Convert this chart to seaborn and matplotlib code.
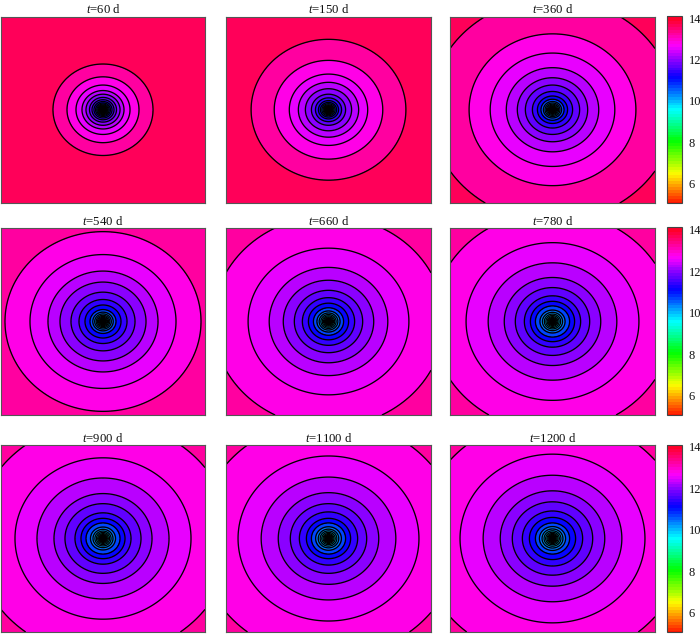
import numpy as np
import matplotlib
matplotlib.use("Agg")
import matplotlib.pyplot as plt
from matplotlib.colors import ListedColormap, Normalize
from matplotlib.cm import ScalarMappable
import seaborn as sns

sns.set_theme(style="ticks")
plt.rcParams["font.family"] = ["Liberation Serif", "DejaVu Serif"]
plt.rcParams["mathtext.fontset"] = "custom"
plt.rcParams["mathtext.rm"] = "Liberation Serif"
plt.rcParams["mathtext.it"] = "Liberation Serif:italic"

# Times (days) of each panel
times = [60, 150, 360, 540, 660, 780, 900, 1100, 1200]
# Contour levels, outermost first
levels_read = [13.45, 13.1, 12.8, 12.5, 12.2, 11.9, 11.6, 11.3, 11.0, 10.7,
               10.4, 10.1, 9.8, 9.5, 9.2, 8.9, 8.6, 8.3, 8.0, 7.7, 7.4, 7.1, 6.8]
# Radius of each contour along the horizontal axis (half-width of a panel = 102)
r_60 = [50, 36, 27, 21, 17, 13.5, 11, 9, 7.4, 6.2, 5.2, 4.4, 3.7, 3.1, 2.6, 2.2, 1.8, 1.5, 1.2, 1.0, 0.8, 0.6, 0.45]
r_150 = [77, 54, 39, 30, 23, 17, 13, 10, 8, 6.6, 5.4, 4.5, 3.8, 3.2, 2.7, 2.2, 1.8, 1.5, 1.2, 1.0, 0.8, 0.6, 0.45]
r_360 = [122, 83, 62, 46, 35, 27, 20, 15, 11.5, 9, 7.4, 6.1, 5.0, 4.1, 3.4, 2.8, 2.3, 1.9, 1.5, 1.2, 0.95, 0.7, 0.5]
r_540 = [165, 98, 73, 55, 43, 32, 24, 18, 13, 10.2, 8.3, 6.8, 5.6, 4.6, 3.8, 3.1, 2.5, 2.0, 1.6, 1.3, 1.0, 0.75, 0.5]
r_660 = [190, 115, 80, 59, 45, 34, 26, 20, 15, 11.5, 9.3, 7.6, 6.2, 5.0, 4.1, 3.3, 2.7, 2.2, 1.8, 1.4, 1.1, 0.8, 0.5]
r_780 = [200, 120, 86, 64, 48, 37, 28, 22, 17, 12.5, 10, 8.1, 6.6, 5.3, 4.3, 3.5, 2.8, 2.3, 1.8, 1.4, 1.1, 0.8, 0.5]
r_900 = [205, 128, 88, 66, 49, 38, 28, 22, 17, 12.5, 10, 8.1, 6.6, 5.3, 4.3, 3.5, 2.8, 2.3, 1.8, 1.4, 1.1, 0.8, 0.5]
r_1100 = [210, 130, 90, 67, 50, 38, 29, 22, 17, 12.8, 10.2, 8.3, 6.7, 5.4, 4.4, 3.6, 2.9, 2.3, 1.8, 1.4, 1.1, 0.8, 0.5]
r_1200 = [215, 133, 92, 69, 52, 40, 30, 23, 17, 13, 10.4, 8.4, 6.8, 5.5, 4.5, 3.6, 2.9, 2.3, 1.8, 1.4, 1.1, 0.8, 0.5]
radii = [r_60, r_150, r_360, r_540, r_660, r_780, r_900, r_1100, r_1200]
cbar_ticks = [6, 8, 10, 12, 14]
vmin, vmax = 5.1, 14.1

W, H = 700, 634
col_x = [(1, 205), (226, 431), (450, 655)]
row_y = [(16.5, 203), (228, 415), (445, 632)]
cbar_x = (666.5, 681.5)

cmap = ListedColormap(sns.color_palette("hsv", 64))
norm = Normalize(vmin, vmax)
draw_levels = np.r_[5.0, levels_read[::-1], 14.0]

g = np.linspace(-1, 1, 1400)
X, Y = np.meshgrid(g, g)
R = np.hypot(X, Y) * 102

fig = plt.figure(figsize=(7.0, 6.34), dpi=100, facecolor="white")


def place(x0, x1, y0, y1):
    return fig.add_axes([x0 / W, 1 - y1 / H, (x1 - x0) / W, (y1 - y0) / H])


def style(ax):
    for s in ax.spines.values():
        s.set_color("#555555")
        s.set_linewidth(0.8)


for i, (t, rad) in enumerate(zip(times, radii)):
    r_row, c_col = divmod(i, 3)
    ax = place(*col_x[c_col], *row_y[r_row])
    rr = np.array(rad, float)[::-1]
    lv = np.array(levels_read, float)[::-1]
    # Field that passes through the contours
    Z = np.interp(np.log(np.maximum(R, 0.02)),
                  np.log(np.r_[0.1, rr, rr[-1] * 2.5]),
                  np.r_[5.1, lv, 13.9])
    ax.contourf(X, Y, Z, levels=draw_levels, cmap=cmap, norm=norm)
    ax.contour(X, Y, Z, levels=levels_read[::-1], colors="black", linewidths=0.95)
    ax.set_xlim(-1, 1)
    ax.set_ylim(-1, 1)
    ax.set_xticks([-0.5, 0, 0.5])
    ax.set_yticks([-0.5, 0, 0.5])
    ax.tick_params(direction="in", length=2.2, width=0.7, color="#222222",
                   top=True, right=True, bottom=True, left=True,
                   labelbottom=False, labelleft=False)
    style(ax)
    ax.set_title(rf"$\mathit{{t}}$={t} d", fontsize=9.2, pad=2.5, color="#111111")

for y0, y1 in row_y:
    cax = place(cbar_x[0], cbar_x[1], y0 - 0.5, y1 - 0.5)
    cb = fig.colorbar(ScalarMappable(norm=norm, cmap=cmap), cax=cax)
    cb.solids.set_edgecolor("face")
    cb.set_ticks(cbar_ticks)
    cb.ax.tick_params(direction="in", length=2.2, width=0.7, labelsize=9,
                      pad=5, color="#222222", labelcolor="#111111")
    cb.outline.set_edgecolor("#444444")
    cb.outline.set_linewidth(0.8)

fig.savefig("out.png", dpi=100, facecolor="white")
